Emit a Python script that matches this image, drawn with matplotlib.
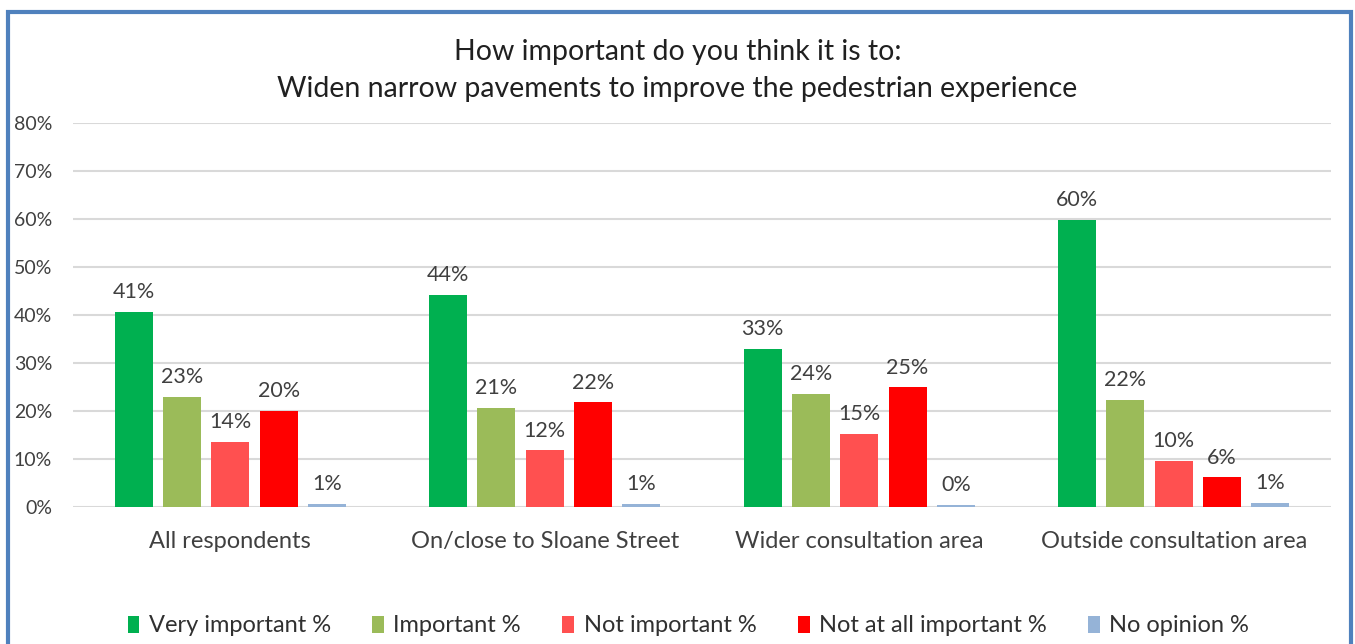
import matplotlib.pyplot as plt
import numpy as np
from matplotlib.patches import Rectangle

plt.rcParams['font.family'] = ['Lato', 'DejaVu Sans']

categories = ["All respondents", "On/close to Sloane Street",
              "Wider consultation area", "Outside consultation area"]
series_names = ["Very important %", "Important %", "Not important %",
                "Not at all important %", "No opinion %"]
very_important = [40.6, 44.2, 32.9, 59.8]
important = [22.9, 20.6, 23.5, 22.3]
not_important = [13.6, 11.8, 15.3, 9.6]
not_at_all = [20.0, 21.8, 24.9, 6.2]
no_opinion = [0.6, 0.6, 0.4, 0.8]
colors = ["#00B050", "#9BBB59", "#FF5050", "#FF0000", "#95B3D7"]
yticks = [0, 10, 20, 30, 40, 50, 60, 70, 80]

series = [very_important, important, not_important, not_at_all, no_opinion]

fig = plt.figure(figsize=(13.55, 6.44), dpi=100)
ax = fig.add_axes([0.0539, 0.2127, 0.9284, 0.5963])

x = np.arange(len(categories))
width = 0.121
step = 0.1536
for i, (name, vals, col) in enumerate(zip(series_names, series, colors)):
    pos = x + (i - 2) * step
    bars = ax.bar(pos, vals, width, color=col, label=name, zorder=3)
    for b, v in zip(bars, vals):
        ax.annotate(f"{v:.0f}%", (b.get_x() + b.get_width() / 2, v),
                    xytext=(0, 7), textcoords="offset points",
                    ha="center", va="bottom", fontsize=15.5, color="#404040")

ax.set_xlim(-0.5, len(categories) - 0.5)
ax.set_ylim(0, 80)
ax.set_yticks(yticks)
ax.set_yticklabels([f"{t}%" for t in yticks])
ax.set_xticks(x)
ax.set_xticklabels(categories)
ax.tick_params(axis="y", length=0, pad=15, labelsize=14, labelcolor="#404040")
ax.tick_params(axis="x", length=0, pad=17, labelsize=17, labelcolor="#404040")
ax.grid(axis="y", color="#D9D9D9", linewidth=1.5, zorder=0)
for s in ax.spines.values():
    s.set_visible(False)

fig.text(0.5, 1 - 52 / 644, "How important do you think it is to:",
         ha="center", va="center", fontsize=20.5, color="#202020")
fig.text(0.5, 1 - 89 / 644,
         "Widen narrow pavements to improve the pedestrian experience",
         ha="center", va="center", fontsize=20.5, color="#202020")

fig.legend(loc="center", bbox_to_anchor=(0.508, 1 - 626 / 644), ncol=5,
           frameon=False, fontsize=17, handlelength=0.5, handleheight=0.75,
           handletextpad=0.4, columnspacing=1.75, labelcolor="#303030")

# blue frame around the whole chart, bottom edge falls off the canvas
fig.patches.append(Rectangle((8 / 1355, -0.1), 1343 / 1355, 1.1 - 12 / 644,
                             transform=fig.transFigure, fill=False,
                             edgecolor="#4F81BD", linewidth=3, clip_on=False))

fig.savefig("out.png", dpi=100)
